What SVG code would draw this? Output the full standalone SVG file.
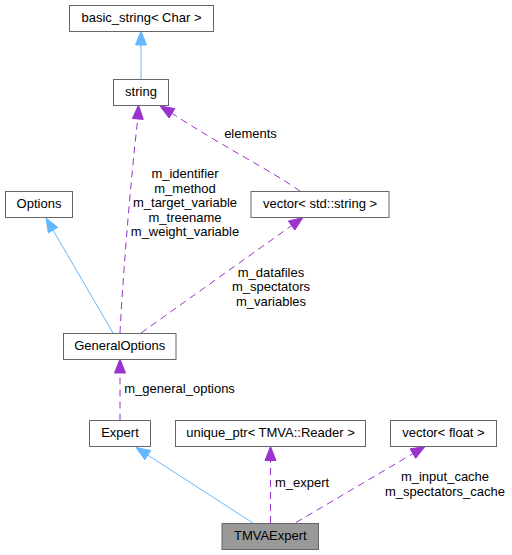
<svg xmlns="http://www.w3.org/2000/svg" width="512" height="555" viewBox="0 0 512 555">
<style>
text{font-family:"Liberation Sans",Arial,sans-serif;font-size:13px;fill:#000}
.n rect{fill:#fff;stroke:#666;stroke-width:1}
.n text{text-anchor:middle}
.c{text-anchor:middle}
.inh{stroke:#63b8ff;stroke-width:1;fill:none}
.inhA{fill:#63b8ff;stroke:#63b8ff}
.use{stroke:#9a32cd;stroke-width:1;fill:none;stroke-dasharray:7,5}
.useA{fill:#9a32cd;stroke:#9a32cd}
</style>
<rect width="512" height="555" fill="#fff"/>
<g id="edges">
  <path class="inh" d="M141,79 L141,45"/>
  <polygon class="inhA" points="141,31 135.5,45 146.5,45"/>
  <path class="use" d="M120,333 C122,290 130,185 137.8,119"/>
  <polygon class="useA" points="138.5,105 143.3,119.4 132.4,118.5"/>
  <path class="use" d="M300,191 C270,170 220,145 172,113.3"/>
  <polygon class="useA" points="160,106 174.8,108.6 169.1,118"/>
  <path class="inh" d="M113,333 L53,230"/>
  <polygon class="inhA" points="46,218 57.8,227.3 48.3,232.9"/>
  <path class="use" d="M141,333 L291.6,225.6"/>
  <polygon class="useA" points="303,217.5 294.8,230.1 288.4,221.1"/>
  <path class="use" d="M120,420.5 L120,373"/>
  <polygon class="useA" points="120,359 114.5,373 125.5,373"/>
  <path class="inh" d="M253,523 L147.8,455.1"/>
  <polygon class="inhA" points="136,447.5 150.8,450.5 144.8,459.7"/>
  <path class="use" d="M270.5,523 L270.5,460.5"/>
  <polygon class="useA" points="270.5,446.5 265,460.5 276,460.5"/>
  <path class="use" d="M296,522.5 L412.9,453.6"/>
  <polygon class="useA" points="425,446.5 415.7,458.3 410.1,448.9"/>
  <text x="250.5" y="138" class="c">elements</text>
  <text class="c" x="185" y="178">m_identifier</text>
  <text class="c" x="185" y="192.5">m_method</text>
  <text class="c" x="185" y="207">m_target_variable</text>
  <text class="c" x="185" y="221.5">m_treename</text>
  <text class="c" x="185" y="236">m_weight_variable</text>
  <text class="c" x="271" y="277">m_datafiles</text>
  <text class="c" x="271" y="291">m_spectators</text>
  <text class="c" x="271" y="305.5">m_variables</text>
  <text x="124.3" y="393.3">m_general_options</text>
  <text x="275" y="487">m_expert</text>
  <text class="c" x="445" y="481">m_input_cache</text>
  <text class="c" x="445" y="495.5">m_spectators_cache</text>
</g>
<g id="basic_string" class="n"><rect x="69.5" y="5.5" width="144" height="26"/><text x="141.5" y="22">basic_string&lt; Char &gt;</text></g>
<g id="string" class="n"><rect x="113.5" y="79.5" width="55" height="26"/><text x="141" y="96">string</text></g>
<g id="Options" class="n"><rect x="5.5" y="191.5" width="67" height="26"/><text x="39" y="208">Options</text></g>
<g id="vector_string" class="n"><rect x="251" y="191.5" width="138" height="26"/><text x="320" y="208">vector&lt; std::string &gt;</text></g>
<g id="GeneralOptions" class="n"><rect x="63.5" y="333.5" width="112.5" height="26"/><text x="119.7" y="350">GeneralOptions</text></g>
<g id="Expert" class="n"><rect x="89.5" y="420.5" width="61" height="26"/><text x="120" y="437">Expert</text></g>
<g id="unique_ptr" class="n"><rect x="175.5" y="420.5" width="190" height="26"/><text x="270.5" y="437">unique_ptr&lt; TMVA::Reader &gt;</text></g>
<g id="vector_float" class="n"><rect x="390.5" y="420.5" width="106" height="26"/><text x="443.5" y="437">vector&lt; float &gt;</text></g>
<g id="TMVAExpert" class="n"><rect x="222" y="523.5" width="96.5" height="26" style="fill:#999"/><text x="270.3" y="540">TMVAExpert</text></g>
</svg>
